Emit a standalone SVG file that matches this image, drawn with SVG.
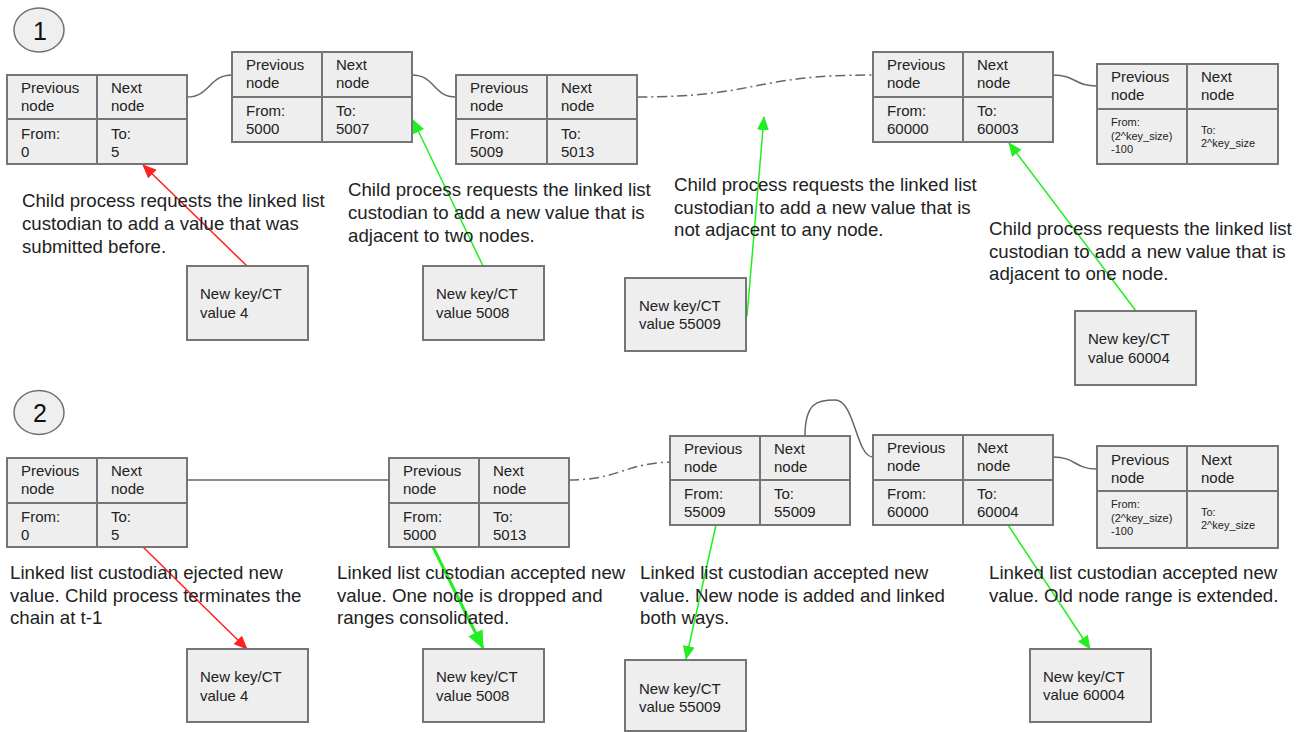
<svg xmlns="http://www.w3.org/2000/svg" width="1311" height="732" viewBox="0 0 1311 732">
  <style>
    .box { fill: #eeeeee; stroke: #757575; stroke-width: 2; }
    .div { stroke: #757575; stroke-width: 2; }
    .badge { fill: #efefef; stroke: #707070; stroke-width: 1.5; }
    .badge-t { font-family: "Liberation Sans", Arial, sans-serif; font-size: 25px; fill: #111; text-anchor: middle; }
    .nt { font-family: "Liberation Sans", Arial, sans-serif; font-size: 15px; fill: #222; }
    .st { font-family: "Liberation Sans", Arial, sans-serif; font-size: 11px; fill: #222; }
    .lbl { font-family: "Liberation Sans", Arial, sans-serif; font-size: 18.67px; fill: #222; }
    .link { fill: none; stroke: #666666; stroke-width: 1.5; }
    .dashdot { stroke-dasharray: 10 4 2 4; }
    .red { fill: none; stroke: #ff2020; stroke-width: 1.5; }
    .green { fill: none; stroke: #22ee22; stroke-width: 1.5; }
    .green-bold { fill: none; stroke: #22ee22; stroke-width: 3; }
  </style>
  <defs>
    <marker id="headRed" markerUnits="userSpaceOnUse" markerWidth="14" markerHeight="12" refX="13" refY="6" orient="auto">
      <path d="M0,0 L14,6 L0,12 z" fill="#ff2020"/>
    </marker>
    <marker id="headGreen" markerUnits="userSpaceOnUse" markerWidth="14" markerHeight="12" refX="13" refY="6" orient="auto">
      <path d="M0,0 L14,6 L0,12 z" fill="#22ee22"/>
    </marker>
    <marker id="headGreenBig" markerUnits="userSpaceOnUse" markerWidth="18" markerHeight="16" refX="17" refY="8" orient="auto">
      <path d="M0,0 L18,8 L0,16 z" fill="#22ee22"/>
    </marker>
  </defs>

  <rect width="1311" height="732" fill="#ffffff"/>

  <!-- step badges -->
  <g id="badge-1">
    <ellipse class="badge" cx="39" cy="30" rx="25" ry="22"/>
    <text class="badge-t" x="40" y="40">1</text>
  </g>
  <g id="badge-2">
    <ellipse class="badge" cx="39" cy="412.5" rx="25" ry="22"/>
    <text class="badge-t" x="40" y="422">2</text>
  </g>

  <!-- links between list nodes -->
  <g id="connectors">
    <path class="link" d="M187,97 C210,97 209,75 232,75"/>
    <path class="link" d="M412,75 C435,75 433,97 456,97"/>
    <path class="link dashdot" d="M637,97 C760,97 750,75 873,75"/>
    <path class="link" d="M1053,75 C1076,75 1074,86 1097,86"/>

    <path class="link" d="M187,480 L389,480"/>
    <path class="link dashdot" d="M569,480 C620,480 625,462 676,462"/>
    <path class="link" d="M805,436 C805,402 818,400 835,400 C855,400 856,457 873,457"/>
    <path class="link" d="M1053,457 C1076,457 1074,469 1097,469"/>

    <!-- requests -->
    <path class="red" d="M247,266 L143,165" marker-end="url(#headRed)"/>
    <path class="green" d="M483,266 L413,120" marker-end="url(#headGreen)"/>
    <path class="green" d="M747,316 L764,117" marker-end="url(#headGreen)"/>
    <path class="green" d="M1136,311 L1009,143" marker-end="url(#headGreen)"/>

    <!-- outcomes -->
    <path class="red" d="M143,547 L247,649" marker-end="url(#headRed)"/>
    <path class="green-bold" d="M433,547 L483,648" marker-end="url(#headGreenBig)"/>
    <path class="green" d="M716,525 L686,659" marker-end="url(#headGreen)"/>
    <path class="green" d="M1008,525 L1090,649" marker-end="url(#headGreen)"/>
  </g>

  <!-- row 1 list nodes -->
  <g id="node-1-0">
    <rect class="box" x="7" y="75" width="180" height="89"/>
    <line class="div" x1="97" y1="75" x2="97" y2="164"/>
    <line class="div" x1="7" y1="119" x2="187" y2="119"/>
    <text class="nt" x="21" y="93">Previous</text><text class="nt" x="21" y="111">node</text>
    <text class="nt" x="111" y="93">Next</text><text class="nt" x="111" y="111">node</text>
    <text class="nt" x="21" y="139">From:</text><text class="nt" x="21" y="157">0</text>
    <text class="nt" x="111" y="139">To:</text><text class="nt" x="111" y="157">5</text>
  </g>
  <g id="node-1-5000">
    <rect class="box" x="232" y="52" width="180" height="90"/>
    <line class="div" x1="322" y1="52" x2="322" y2="142"/>
    <line class="div" x1="232" y1="97" x2="412" y2="97"/>
    <text class="nt" x="246" y="70">Previous</text><text class="nt" x="246" y="88">node</text>
    <text class="nt" x="336" y="70">Next</text><text class="nt" x="336" y="88">node</text>
    <text class="nt" x="246" y="116">From:</text><text class="nt" x="246" y="134">5000</text>
    <text class="nt" x="336" y="116">To:</text><text class="nt" x="336" y="134">5007</text>
  </g>
  <g id="node-1-5009">
    <rect class="box" x="456" y="75" width="181" height="89"/>
    <line class="div" x1="547" y1="75" x2="547" y2="164"/>
    <line class="div" x1="456" y1="119" x2="637" y2="119"/>
    <text class="nt" x="470" y="93">Previous</text><text class="nt" x="470" y="111">node</text>
    <text class="nt" x="561" y="93">Next</text><text class="nt" x="561" y="111">node</text>
    <text class="nt" x="470" y="139">From:</text><text class="nt" x="470" y="157">5009</text>
    <text class="nt" x="561" y="139">To:</text><text class="nt" x="561" y="157">5013</text>
  </g>
  <g id="node-1-60000">
    <rect class="box" x="873" y="52" width="180" height="90"/>
    <line class="div" x1="963" y1="52" x2="963" y2="142"/>
    <line class="div" x1="873" y1="97" x2="1053" y2="97"/>
    <text class="nt" x="887" y="70">Previous</text><text class="nt" x="887" y="88">node</text>
    <text class="nt" x="977" y="70">Next</text><text class="nt" x="977" y="88">node</text>
    <text class="nt" x="887" y="116">From:</text><text class="nt" x="887" y="134">60000</text>
    <text class="nt" x="977" y="116">To:</text><text class="nt" x="977" y="134">60003</text>
  </g>
  <g id="node-1-tail">
    <rect class="box" x="1097" y="64" width="181" height="100"/>
    <line class="div" x1="1187" y1="64" x2="1187" y2="164"/>
    <line class="div" x1="1097" y1="109" x2="1278" y2="109"/>
    <text class="nt" x="1111" y="82">Previous</text><text class="nt" x="1111" y="100">node</text>
    <text class="nt" x="1201" y="82">Next</text><text class="nt" x="1201" y="100">node</text>
    <text class="st" x="1111" y="126">From:</text><text class="st" x="1111" y="140">(2^key_size)</text><text class="st" x="1111" y="153">-100</text>
    <text class="st" x="1201" y="134">To:</text><text class="st" x="1201" y="147">2^key_size</text>
  </g>

  <!-- row 1 incoming values -->
  <g id="value-1-4">
    <rect class="box" x="187" y="266" width="121" height="74"/>
    <text class="nt" x="200" y="299">New key/CT</text><text class="nt" x="200" y="318">value 4</text>
  </g>
  <g id="value-1-5008">
    <rect class="box" x="423" y="266" width="121" height="74"/>
    <text class="nt" x="436" y="299">New key/CT</text><text class="nt" x="436" y="318">value 5008</text>
  </g>
  <g id="value-1-55009">
    <rect class="box" x="625" y="278" width="121" height="73"/>
    <text class="nt" x="639" y="311">New key/CT</text><text class="nt" x="639" y="329">value 55009</text>
  </g>
  <g id="value-1-60004">
    <rect class="box" x="1075" y="311" width="121" height="74"/>
    <text class="nt" x="1088" y="344">New key/CT</text><text class="nt" x="1088" y="363">value 60004</text>
  </g>

  <!-- row 1 captions -->
  <g id="caption-1a">
    <text class="lbl" x="22" y="207">Child process requests the linked list</text>
    <text class="lbl" x="22" y="230">custodian to add a value that was</text>
    <text class="lbl" x="22" y="253">submitted before.</text>
  </g>
  <g id="caption-1b">
    <text class="lbl" x="348" y="196">Child process requests the linked list</text>
    <text class="lbl" x="348" y="219">custodian to add a new value that is</text>
    <text class="lbl" x="348" y="242">adjacent to two nodes.</text>
  </g>
  <g id="caption-1c">
    <text class="lbl" x="674" y="191">Child process requests the linked list</text>
    <text class="lbl" x="674" y="214">custodian to add a new value that is</text>
    <text class="lbl" x="674" y="236">not adjacent to any node.</text>
  </g>
  <g id="caption-1d">
    <text class="lbl" x="989" y="235">Child process requests the linked list</text>
    <text class="lbl" x="989" y="258">custodian to add a new value that is</text>
    <text class="lbl" x="989" y="280">adjacent to one node.</text>
  </g>

  <!-- row 2 list nodes -->
  <g id="node-2-0">
    <rect class="box" x="7" y="458" width="180" height="89"/>
    <line class="div" x1="97" y1="458" x2="97" y2="547"/>
    <line class="div" x1="7" y1="503" x2="187" y2="503"/>
    <text class="nt" x="21" y="476">Previous</text><text class="nt" x="21" y="494">node</text>
    <text class="nt" x="111" y="476">Next</text><text class="nt" x="111" y="494">node</text>
    <text class="nt" x="21" y="522">From:</text><text class="nt" x="21" y="540">0</text>
    <text class="nt" x="111" y="522">To:</text><text class="nt" x="111" y="540">5</text>
  </g>
  <g id="node-2-5000">
    <rect class="box" x="389" y="458" width="180" height="89"/>
    <line class="div" x1="479" y1="458" x2="479" y2="547"/>
    <line class="div" x1="389" y1="503" x2="569" y2="503"/>
    <text class="nt" x="403" y="476">Previous</text><text class="nt" x="403" y="494">node</text>
    <text class="nt" x="493" y="476">Next</text><text class="nt" x="493" y="494">node</text>
    <text class="nt" x="403" y="522">From:</text><text class="nt" x="403" y="540">5000</text>
    <text class="nt" x="493" y="522">To:</text><text class="nt" x="493" y="540">5013</text>
  </g>
  <g id="node-2-55009">
    <rect class="box" x="670" y="436" width="180" height="89"/>
    <line class="div" x1="760" y1="436" x2="760" y2="525"/>
    <line class="div" x1="670" y1="480" x2="850" y2="480"/>
    <text class="nt" x="684" y="454">Previous</text><text class="nt" x="684" y="472">node</text>
    <text class="nt" x="774" y="454">Next</text><text class="nt" x="774" y="472">node</text>
    <text class="nt" x="684" y="499">From:</text><text class="nt" x="684" y="517">55009</text>
    <text class="nt" x="774" y="499">To:</text><text class="nt" x="774" y="517">55009</text>
  </g>
  <g id="node-2-60000">
    <rect class="box" x="873" y="435" width="180" height="90"/>
    <line class="div" x1="963" y1="435" x2="963" y2="525"/>
    <line class="div" x1="873" y1="480" x2="1053" y2="480"/>
    <text class="nt" x="887" y="453">Previous</text><text class="nt" x="887" y="471">node</text>
    <text class="nt" x="977" y="453">Next</text><text class="nt" x="977" y="471">node</text>
    <text class="nt" x="887" y="499">From:</text><text class="nt" x="887" y="517">60000</text>
    <text class="nt" x="977" y="499">To:</text><text class="nt" x="977" y="517">60004</text>
  </g>
  <g id="node-2-tail">
    <rect class="box" x="1097" y="446" width="181" height="102"/>
    <line class="div" x1="1187" y1="446" x2="1187" y2="548"/>
    <line class="div" x1="1097" y1="491" x2="1278" y2="491"/>
    <text class="nt" x="1111" y="465">Previous</text><text class="nt" x="1111" y="483">node</text>
    <text class="nt" x="1201" y="465">Next</text><text class="nt" x="1201" y="483">node</text>
    <text class="st" x="1111" y="508">From:</text><text class="st" x="1111" y="522">(2^key_size)</text><text class="st" x="1111" y="535">-100</text>
    <text class="st" x="1201" y="516">To:</text><text class="st" x="1201" y="529">2^key_size</text>
  </g>

  <!-- row 2 incoming values -->
  <g id="value-2-4">
    <rect class="box" x="187" y="649" width="121" height="73"/>
    <text class="nt" x="200" y="682">New key/CT</text><text class="nt" x="200" y="701">value 4</text>
  </g>
  <g id="value-2-5008">
    <rect class="box" x="423" y="649" width="121" height="73"/>
    <text class="nt" x="436" y="682">New key/CT</text><text class="nt" x="436" y="701">value 5008</text>
  </g>
  <g id="value-2-55009">
    <rect class="box" x="625" y="660" width="121" height="71"/>
    <text class="nt" x="639" y="694">New key/CT</text><text class="nt" x="639" y="712">value 55009</text>
  </g>
  <g id="value-2-60004">
    <rect class="box" x="1030" y="649" width="121" height="73"/>
    <text class="nt" x="1043" y="682">New key/CT</text><text class="nt" x="1043" y="700">value 60004</text>
  </g>

  <!-- row 2 captions -->
  <g id="caption-2a">
    <text class="lbl" x="10" y="579">Linked list custodian ejected new</text>
    <text class="lbl" x="10" y="602">value. Child process terminates the</text>
    <text class="lbl" x="10" y="624">chain at t-1</text>
  </g>
  <g id="caption-2b">
    <text class="lbl" x="337" y="579">Linked list custodian accepted new</text>
    <text class="lbl" x="337" y="602">value. One node is dropped and</text>
    <text class="lbl" x="337" y="624">ranges consolidated.</text>
  </g>
  <g id="caption-2c">
    <text class="lbl" x="640" y="579">Linked list custodian accepted new</text>
    <text class="lbl" x="640" y="602">value. New node is added and linked</text>
    <text class="lbl" x="640" y="624">both ways.</text>
  </g>
  <g id="caption-2d">
    <text class="lbl" x="989" y="579">Linked list custodian accepted new</text>
    <text class="lbl" x="989" y="602">value. Old node range is extended.</text>
  </g>
</svg>
